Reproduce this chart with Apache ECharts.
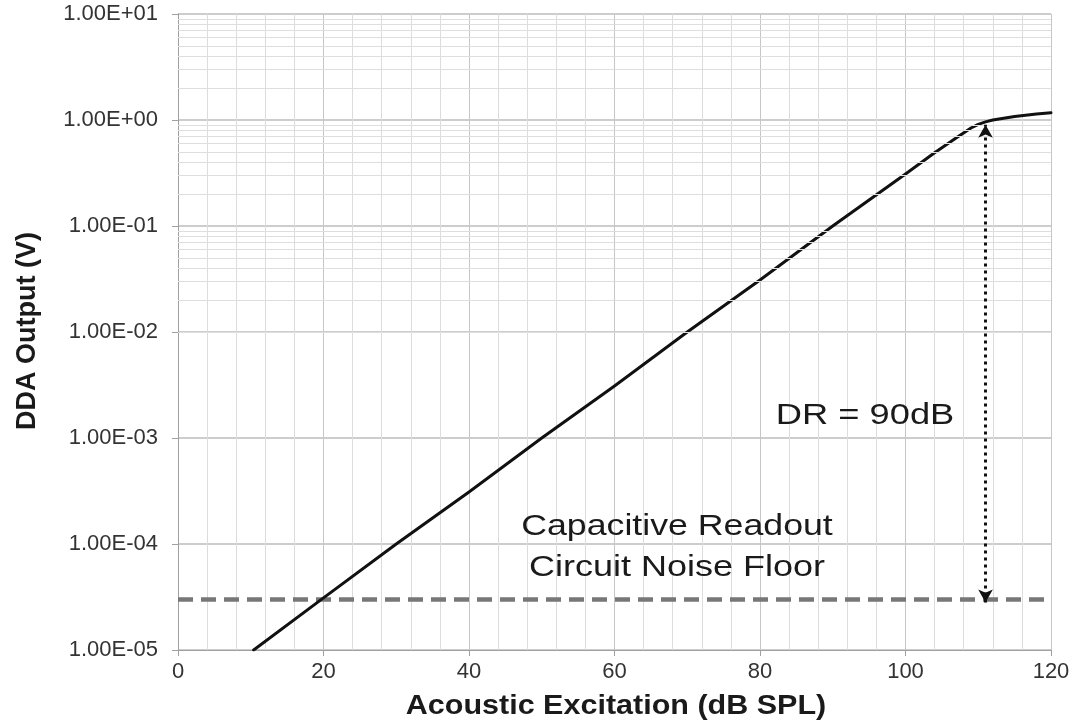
<!DOCTYPE html>
<html>
<head>
<meta charset="utf-8">
<script src="https://cdn.jsdelivr.net/npm/echarts@6/dist/echarts.min.js"></script>
<style>
html,body{margin:0;padding:0;background:#fff;}
#chart{width:1078px;height:722px;}
</style>
</head>
<body>
<div id="chart"></div>
<script>
// ---- data ----
const acoustic = [10.4, 20, 30, 40, 50, 60, 70, 80, 90, 100, 104, 107, 109, 110, 111, 112, 113.5, 115, 116.5, 118, 120];
const ddaOutput = [1e-5, 3.1e-5, 1e-4, 3.1e-4, 1e-3, 3.1e-3, 1e-2, 3.1e-2, 0.1, 0.31, 0.49, 0.68, 0.84, 0.91, 0.96, 1.0, 1.04, 1.08, 1.11, 1.14, 1.17];
const noiseFloor = 3e-5;
const drX = 111;
const drRange = [2.8e-5, 0.9];
const xTickLabels = ['0', '20', '40', '60', '80', '100', '120'];
const yTickLabels = ['1.00E-05', '1.00E-04', '1.00E-03', '1.00E-02', '1.00E-01', '1.00E+00', '1.00E+01'];
const yMinExp = -5, yMaxExp = 1;

// minor log gridlines 2..9 in every decade
const minorGrid = [];
for (let e = yMinExp; e < yMaxExp; e++) {
  for (let m = 2; m <= 9; m++) minorGrid.push({ yAxis: m * Math.pow(10, e) });
}

const chart = echarts.init(document.getElementById('chart'));
const font = '"Liberation Sans", Arial, sans-serif';

chart.setOption({
  animation: false,
  grid: { left: 178, right: 27, top: 14, bottom: 72 },
  xAxis: {
    type: 'value', min: 0, max: 120, interval: 20,
    axisLine: { show: true, lineStyle: { color: '#a0a0a0', width: 1 } },
    axisTick: { show: true, length: 6, lineStyle: { color: '#a0a0a0' } },
    axisLabel: {
      margin: 11, fontSize: 22, color: '#333', fontFamily: font,
      formatter: function (v) { return xTickLabels[Math.round(v / 20)]; }
    },
    splitLine: { show: true, lineStyle: { color: '#c6c6c6', width: 1 } },
    minorTick: { show: false, splitNumber: 5 },
    minorSplitLine: { show: true, lineStyle: { color: '#dcdcdc', width: 1 } }
  },
  yAxis: {
    type: 'log', logBase: 10, min: 1e-5, max: 10, interval: 1,
    axisLine: { show: true, lineStyle: { color: '#a0a0a0', width: 1 } },
    axisTick: { show: true, length: 6, lineStyle: { color: '#a0a0a0' } },
    axisLabel: {
      margin: 20, fontSize: 22, color: '#333', fontFamily: font,
      formatter: function (v) {
        const e = Math.round(Math.log10(v));
        return yTickLabels[e - yMinExp];
      }
    },
    splitLine: { show: true, lineStyle: { color: '#bdbdbd', width: 1.5 } },
    minorSplitLine: { show: false }
  },
  series: [
    {
      name: 'minor grid', type: 'line', data: [[0, 1e-5]], showSymbol: false, silent: true, z: 1,
      lineStyle: { width: 0 },
      markLine: {
        silent: true, symbol: ['none', 'none'], animation: false,
        label: { show: false },
        lineStyle: { color: '#dedede', width: 1, type: 'solid' },
        data: minorGrid
      }
    },
    {
      name: 'noise floor', type: 'line', z: 3, showSymbol: false, silent: true,
      data: [[0, noiseFloor], [120, noiseFloor]],
      lineStyle: { color: '#777', width: 4.5, type: [15, 8] }
    },
    {
      name: 'DDA output', type: 'line', z: 4, showSymbol: false, smooth: false,
      data: acoustic.map((x, i) => [x, ddaOutput[i]]),
      lineStyle: { color: '#111', width: 3, join: 'round', cap: 'round' }
    },
    {
      name: 'DR', type: 'line', z: 5, showSymbol: false, silent: true,
      data: [[drX, drRange[0]]],
      lineStyle: { width: 0 },
      markLine: {
        silent: true, symbol: ['arrow', 'arrow'], symbolSize: [11, 13], animation: false,
        label: { show: false },
        lineStyle: { color: '#111', width: 3, type: [3, 4] },
        data: [[{ coord: [drX, drRange[0]] }, { coord: [drX, drRange[1]] }]]
      }
    }
  ],
  graphic: [
    { type: 'text', x: 865, y: 416, scaleX: 1.21, z: 10,
      style: { text: 'DR = 90dB', font: '30px ' + font, fill: '#1a1a1a', textAlign: 'center', textVerticalAlign: 'middle' } },
    { type: 'text', x: 677, y: 527, scaleX: 1.19, z: 10,
      style: { text: 'Capacitive Readout', font: '30px ' + font, fill: '#1a1a1a', textAlign: 'center', textVerticalAlign: 'middle' } },
    { type: 'text', x: 677, y: 568, scaleX: 1.2, z: 10,
      style: { text: 'Circuit Noise Floor', font: '30px ' + font, fill: '#1a1a1a', textAlign: 'center', textVerticalAlign: 'middle' } },
    { type: 'text', x: 616, y: 706, scaleX: 1.09, z: 10,
      style: { text: 'Acoustic Excitation (dB SPL)', font: 'bold 28px ' + font, fill: '#1a1a1a', textAlign: 'center', textVerticalAlign: 'middle' } },
    { type: 'text', x: 28, y: 331, rotation: Math.PI / 2, z: 10,
      style: { text: 'DDA Output (V)', font: 'bold 27px ' + font, fill: '#1a1a1a', textAlign: 'center', textVerticalAlign: 'middle' } }
  ]
});
</script>
</body>
</html>
